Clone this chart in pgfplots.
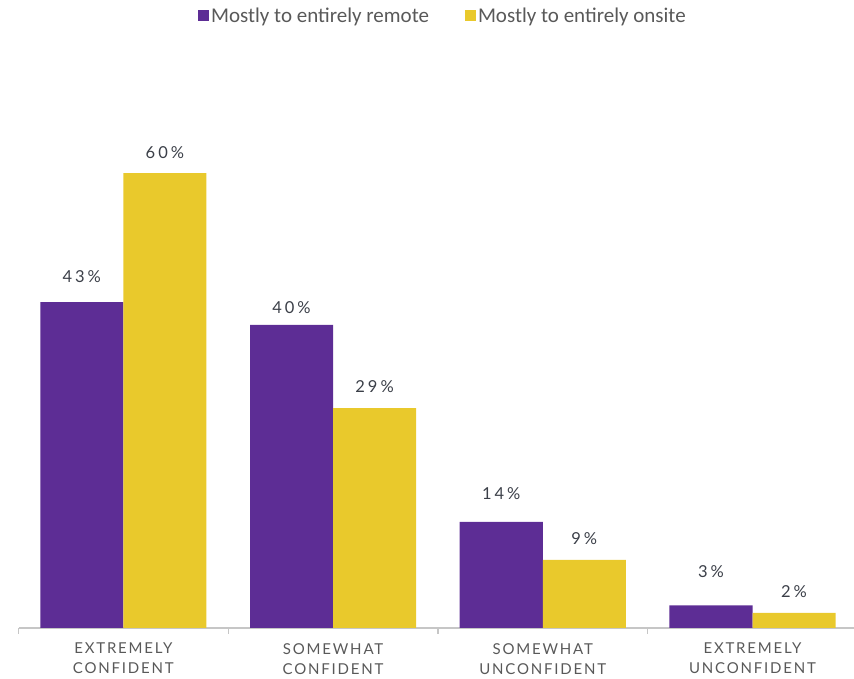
\documentclass[border=0pt]{standalone}
\usepackage{pgfplots}
\usepackage{pgfplotstable}
\pgfplotsset{compat=1.18}
\usepackage{fontspec}
\setmainfont{Lato}
\newfontfamily\legfont{Carlito}
\newfontfamily\catfont[LetterSpace=12]{Lato}
\newfontfamily\valfont[LetterSpace=18]{Lato}
\definecolor{cpurple}{HTML}{5D2D95}
\definecolor{cyellow}{HTML}{E9C92C}
\definecolor{ctext}{HTML}{3B3F48}
\definecolor{cgray}{HTML}{595959}
\definecolor{caxis}{HTML}{C6C6C6}
\pgfplotstableread{
x y lab off
0 43 43 20
1 40 40 11
2 14 14 22
3 3 3 28
}\remote
\pgfplotstableread{
x y lab off
0 60 60 15
1 29 29 16
2 9 9 15
3 2 2 15
}\onsite
\begin{document}
\begin{tikzpicture}
\useasboundingbox (0,0) rectangle (854pt,679pt);
\begin{axis}[
  at={(18.5pt,51pt)}, anchor=south west,
  scale only axis, width=835.5pt, height=568.5pt,
  xmin=-0.5, xmax=3.484, ymin=0, ymax=75,
  axis y line=none, axis x line*=bottom,
  axis line style={caxis, line width=1.3pt, -},
  xtick={0,1,2,3},
  xticklabels={EXTREMELY\\CONFIDENT, SOMEWHAT\\CONFIDENT, SOMEWHAT\\UNCONFIDENT, EXTREMELY\\UNCONFIDENT},
  major tick length=0pt,
  minor xtick={-0.5,0.5,1.5,2.5},
  minor tick length=6pt, tick align=outside,
  minor tick style={caxis, line width=1.3pt},
  xticklabel style={align=center, font={\catfont\fontsize{15}{20}\selectfont}, text=cgray, yshift=-15pt, inner sep=0pt},
  ybar=0pt, bar width=0.396,
  point meta=explicit symbolic,
  visualization depends on={\thisrow{off}\as\off},
  nodes near coords={\pgfplotspointmeta\%},
  every node near coord/.append style={font={\valfont\fontsize{16.5}{18}\selectfont}, text=ctext, anchor=base, yshift=\off pt, inner sep=0pt},
  legend columns=2,
  legend style={at={(0.508,1.0765)}, anchor=center, draw=none, fill=none,
    font={\legfont\fontsize{21}{24}\selectfont}, text=cgray,
    /tikz/every even column/.append style={column sep=34pt},
    inner sep=0pt},
  legend image code/.code={\fill[#1] (0pt,-5pt) rectangle (11pt,6pt);},
  clip=false,
]
\addplot[fill=cpurple, draw=none, bar shift=-0.198] table[x=x, y=y, meta=lab] {\remote};
\addplot[fill=cyellow, draw=none, bar shift=0.198] table[x=x, y=y, meta=lab] {\onsite};
\legend{Mostly to entirely remote, Mostly to entirely onsite}
\end{axis}
\end{tikzpicture}
\end{document}
